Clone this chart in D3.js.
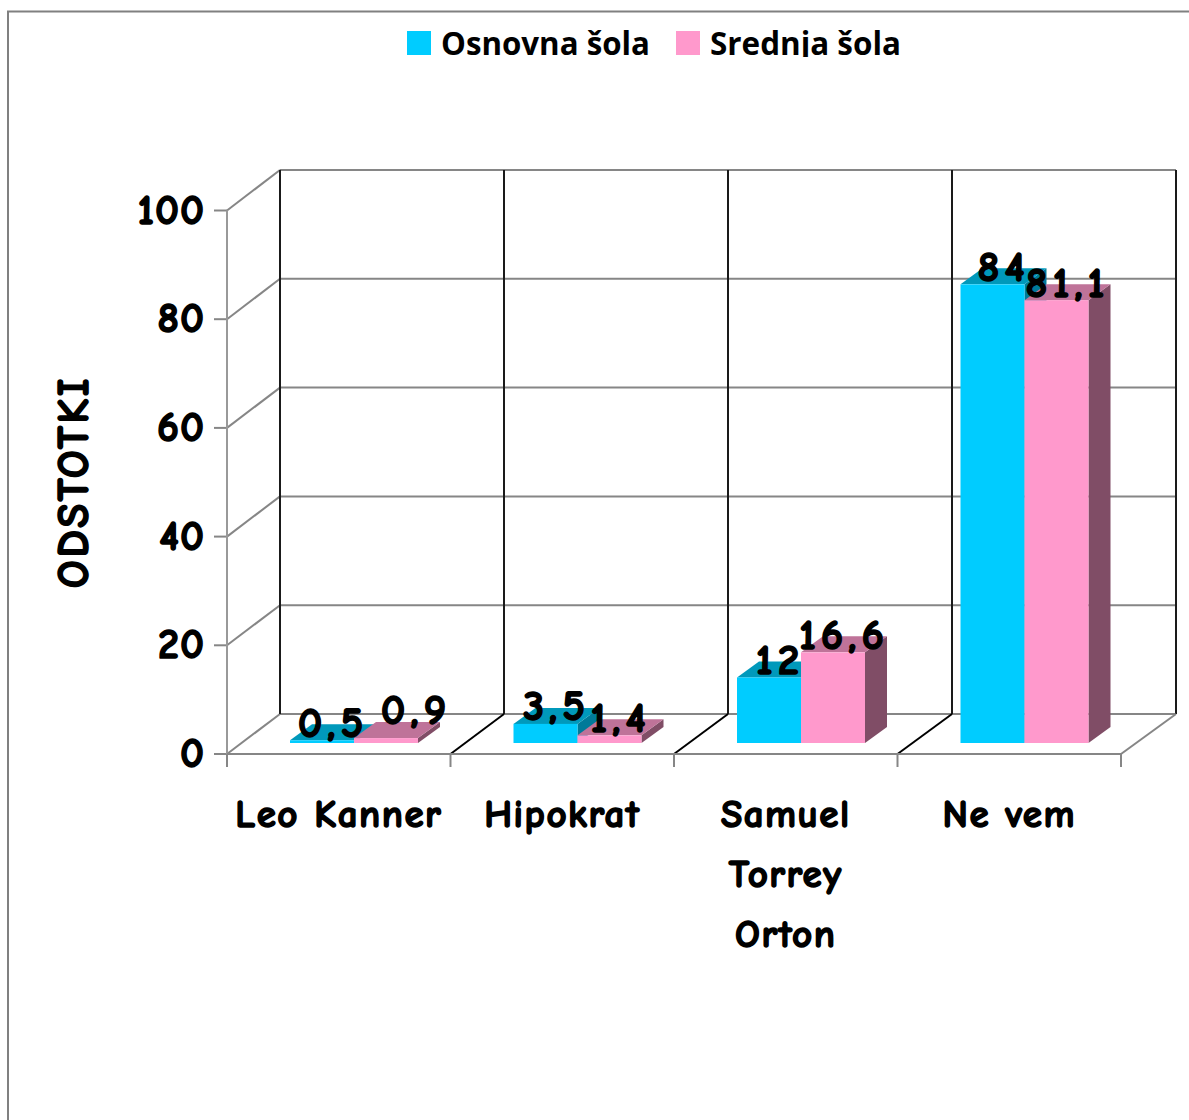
<!DOCTYPE html>
<html><head><meta charset="utf-8">
<script src="https://cdn.jsdelivr.net/npm/d3@7/dist/d3.min.js"></script>
<style>
html,body{margin:0;padding:0;background:#fff;overflow:hidden}
svg{display:block}
.comic{font-family:"Comic Sans MS","Comic Neue",Lato,sans-serif;font-weight:700;fill:#000;stroke:#000;stroke-width:1.5px;stroke-linejoin:round}
.leg{font-family:"Open Sans","Noto Sans",sans-serif;font-weight:700;fill:#000}
</style></head><body><svg id="c" width="1189" height="1120"></svg>
<script>
const categories=[["Leo Kanner"],["Hipokrat"],["Samuel","Torrey","Orton"],["Ne vem"]];
const seriesNames=["Osnovna šola","Srednja šola"];
const osnovna=[0.5,3.5,12,84];
const srednja=[0.9,1.4,16.6,81.1];
const osnovnaLabels=["0,5","3,5","12","84"];
const srednjaLabels=["0,9","1,4","16,6","81,1"];
const yTicks=[0,20,40,60,80,100];

const svg=d3.select("#c");
const grey="#868686", dark="#1a1a1a";
const catKeys=categories.map(c=>c.join(" "));
const x=d3.scaleBand().domain(catKeys).range([227,1121]);
const xBack=d3.scaleBand().domain(catKeys).range([280,1176]);
const xInner=d3.scaleBand().domain(seriesNames).range([63,191]);
const y=d3.scaleLinear().domain([0,100]).range([754,210.5]);
const yBack=d3.scaleLinear().domain([0,100]).range([714,170]);
const yBar=d3.scaleLinear().domain([0,100]).range([743,197]);
const bar={dx:22,dy:-16};

// outer frame
svg.append("path").attr("d","M8,1120V11.5H1189").attr("fill","none").attr("stroke","#808080").attr("stroke-width",2);

const line=(a,b,c,d,col,w=2)=>svg.append("line").attr("x1",a).attr("y1",b).attr("x2",c).attr("y2",d).attr("stroke",col).attr("stroke-width",w);

// walls: back + left
yTicks.forEach(t=>{
  line(227,y(t),280,yBack(t),grey);
  line(280,yBack(t),1176,yBack(t),grey);
  line(214,y(t),227,y(t),grey);
});
line(227,y(0),227,y(100),"#999");
// back verticals, floor diagonals, x ticks
const edges=catKeys.map(k=>x(k)).concat([x.range()[1]]);
const edgesBack=catKeys.map(k=>xBack(k)).concat([xBack.range()[1]]);
edges.forEach((e,i)=>{
  line(edgesBack[i],yBack(0),edgesBack[i],yBack(100),dark);
  if(i>0) line(e,y(0),edgesBack[i],yBack(0),i<edges.length-1?"#000":grey);
  line(e,y(0),e,767,grey);
});
line(227,y(0),1121,y(0),grey);

// bars
const styles={
 [seriesNames[0]]:{front:"#00CCFF",top:"#0099BB",side:"#007A99"},
 [seriesNames[1]]:{front:"#FF99CC",top:"#BF7399",side:"#804D66"}
};
const poly=(pts,f)=>svg.append("polygon").attr("points",pts.map(p=>p.join(",")).join(" ")).attr("fill",f);
const labelNudge={"0,9":{dx:19,dy:-11}};
const labelQueue=[];
catKeys.forEach((k,i)=>{
  [[seriesNames[0],osnovna[i],osnovnaLabels[i]],[seriesNames[1],srednja[i],srednjaLabels[i]]].forEach(([s,v,lab])=>{
    const x0=x(k)+xInner(s), w=xInner.bandwidth(), yt=yBar(v), yb=yBar(0), st=styles[s];
    poly([[x0+w,yb],[x0+w+bar.dx,yb+bar.dy],[x0+w+bar.dx,yt+bar.dy],[x0+w,yt]],st.side);
    poly([[x0,yt],[x0+bar.dx,yt+bar.dy],[x0+w+bar.dx,yt+bar.dy],[x0+w,yt]],st.top);
    svg.append("rect").attr("x",x0).attr("y",yt).attr("width",w).attr("height",yb-yt).attr("fill",st.front);
    const n=labelNudge[lab]||{dx:0,dy:0};
    labelQueue.push({t:lab,x:x0+w/2+11+n.dx,y:yt-3.5+n.dy});
  });
});
labelQueue.forEach(l=>svg.append("text").attr("class","comic").attr("x",l.x).attr("y",l.y)
  .attr("text-anchor","middle").attr("font-size",43).attr("letter-spacing",5).text(l.t));

// y axis labels
yTicks.forEach(t=>svg.append("text").attr("class","comic").attr("x",205).attr("y",y(t)+13)
  .attr("text-anchor","end").attr("font-size",42).attr("letter-spacing",1).text(t));

// axis title
svg.append("text").attr("class","comic").attr("transform","translate(88,482) rotate(-90)")
  .attr("text-anchor","middle").attr("font-size",44).attr("letter-spacing",2.5).text("ODSTOTKI");

// categories
categories.forEach((lines,i)=>{
  lines.forEach((ln,j)=>svg.append("text").attr("class","comic")
    .attr("x",x(catKeys[i])+x.bandwidth()/2).attr("y",827+j*60).attr("text-anchor","middle")
    .attr("font-size",39).attr("letter-spacing",1.5).text(ln));
});

// legend, clipped just under the baseline as in the source
svg.append("clipPath").attr("id","lc").append("rect").attr("x",380).attr("y",15).attr("width",560).attr("height",42);
const lg=svg.append("g").attr("clip-path","url(#lc)");
[[407,441,209],[676,710,191]].forEach(([sx,tx,tw],i)=>{
  lg.append("rect").attr("x",sx).attr("y",31).attr("width",24).attr("height",24).attr("fill",styles[seriesNames[i]].front);
  lg.append("text").attr("class","leg").attr("x",tx).attr("y",54.5).attr("font-size",32)
    .attr("textLength",tw).attr("lengthAdjust","spacingAndGlyphs").text(seriesNames[i]);
});
</script></body></html>
